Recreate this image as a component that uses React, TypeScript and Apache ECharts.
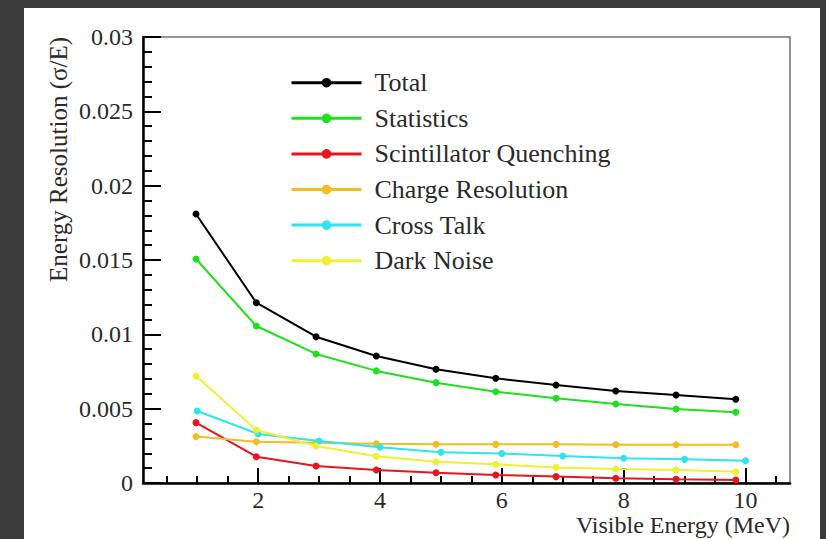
import React, { useEffect, useRef } from "react";
import * as echarts from "echarts";

// x positions (MeV)
const xMain = [0.98, 1.97, 2.95, 3.94, 4.92, 5.9, 6.89, 7.87, 8.86, 9.84];
const xCross = [1, 2, 3, 4, 5, 6, 7, 8, 9, 10];

const seriesNames = [
  "Total",
  "Statistics",
  "Scintillator Quenching",
  "Charge Resolution",
  "Cross Talk",
  "Dark Noise",
];

const total = [0.01809, 0.01213, 0.00984, 0.00854, 0.00765, 0.00704, 0.00659, 0.00619, 0.00592, 0.00563];
const statistics = [0.01507, 0.01056, 0.00868, 0.00754, 0.00675, 0.00614, 0.0057, 0.00531, 0.00498, 0.00476];
const quenching = [0.00406, 0.00177, 0.00114, 0.00087, 0.00069, 0.00054, 0.00043, 0.00032, 0.00025, 0.0002];
const charge = [0.00312, 0.00278, 0.0027, 0.00264, 0.00261, 0.0026, 0.0026, 0.00258, 0.00257, 0.00257];
const crossTalk = [0.00484, 0.0033, 0.00283, 0.0024, 0.00207, 0.00198, 0.00182, 0.00167, 0.00159, 0.0015];
const darkNoise = [0.0072, 0.00356, 0.00249, 0.0018, 0.00143, 0.00126, 0.00105, 0.00094, 0.00087, 0.00076];

const colors = ["#000000", "#1ee01e", "#e8141e", "#f2bd24", "#2fe3f0", "#f0f032"];

const xMajorTicks = [2, 4, 6, 8, 10];
const xMinorTicks = [0.5, 1, 1.5, 2.5, 3, 3.5, 4.5, 5, 5.5, 6.5, 7, 7.5, 8.5, 9, 9.5, 10.5];

const FONT = "Liberation Serif";
const TEXT = "#2a2a2a";

export default function App() {
  const ref = useRef<HTMLDivElement>(null);

  useEffect(() => {
    if (!ref.current) return;
    const chart = echarts.init(ref.current, null, { renderer: "svg" });

    const ys = [total, statistics, quenching, charge, crossTalk, darkNoise];
    const series = ys.map((vals, i) => {
      const xs = i === 4 ? xCross : xMain;
      return {
        name: seriesNames[i],
        type: "line",
        xAxisIndex: 0,
        yAxisIndex: 0,
        data: vals.map((v, k) => [xs[k], v]),
        symbol: "circle",
        symbolSize: 7,
        showSymbol: true,
        lineStyle: { color: colors[i], width: 2 },
        itemStyle: { color: colors[i] },
        z: 3 + i,
      };
    });

    const option = {
      animation: false,
      backgroundColor: "transparent",
      textStyle: { fontFamily: FONT },
      grid: {
        left: 143,
        top: 37,
        width: 647,
        height: 446,
        show: true,
        borderColor: "#707070",
        borderWidth: 1.5,
        backgroundColor: "transparent",
      },
      legend: {
        orient: "vertical",
        left: 290,
        top: 69.7,
        padding: 0,
        itemWidth: 70,
        itemHeight: 12,
        itemGap: 9.6,
        lineStyle: { width: 3 },
        textStyle: {
          fontFamily: FONT,
          fontSize: 26,
          lineHeight: 26,
          color: TEXT,
          padding: [0, 0, 0, 8],
        },
        data: seriesNames,
      },
      xAxis: [
        {
          type: "value",
          min: 0.11,
          max: 10.73,
          axisLine: { show: true, lineStyle: { color: "#000", width: 2.5 } },
          axisTick: {
            show: true,
            inside: true,
            length: 15,
            customValues: xMajorTicks,
            lineStyle: { color: "#000", width: 2 },
          },
          axisLabel: {
            show: true,
            customValues: xMajorTicks,
            margin: 7,
            fontFamily: FONT,
            fontSize: 24,
            lineHeight: 20,
            color: TEXT,
          },
          splitLine: { show: false },
        },
        {
          type: "value",
          min: 0.11,
          max: 10.73,
          position: "bottom",
          axisLine: { show: false },
          axisTick: {
            show: true,
            inside: true,
            length: 7,
            customValues: xMinorTicks,
            lineStyle: { color: "#000", width: 2 },
          },
          axisLabel: { show: false },
          splitLine: { show: false },
        },
      ],
      yAxis: {
        type: "value",
        min: 0,
        max: 0.03,
        interval: 0.005,
        axisLine: { show: true, lineStyle: { color: "#000", width: 2.5 } },
        axisTick: {
          show: true,
          inside: true,
          length: 18,
          lineStyle: { color: "#000", width: 2 },
        },
        minorTick: {
          show: true,
          splitNumber: 5,
          length: 9,
          lineStyle: { color: "#000", width: 2 },
        },
        axisLabel: {
          margin: 10,
          fontFamily: FONT,
          fontSize: 24,
          color: TEXT,
          formatter: (v: number) => String(parseFloat(v.toFixed(4))),
        },
        splitLine: { show: false },
        minorSplitLine: { show: false },
      },
      graphic: [
        {
          type: "text",
          x: 790,
          y: 525,
          style: {
            text: "Visible Energy (MeV)",
            fontFamily: FONT,
            fontSize: 24,
            lineHeight: 22,
            fill: TEXT,
            align: "right",
            verticalAlign: "middle",
          },
        },
        {
          type: "text",
          x: 58,
          y: 37,
          rotation: Math.PI / 2,
          style: {
            text: "Energy Resolution (σ/E)",
            fontFamily: FONT,
            fontSize: 25,
            fill: TEXT,
            align: "right",
            verticalAlign: "middle",
          },
        },
      ],
      series,
    };

    chart.setOption(option as any);
    return () => chart.dispose();
  }, []);

  return (
    <div
      style={{
        position: "fixed",
        left: 0,
        top: 0,
        width: 826,
        height: 539,
        background: "#3b3b3b",
        overflow: "hidden",
      }}
    >
      <div
        style={{
          position: "absolute",
          left: 24,
          top: 8,
          width: 796,
          height: 531,
          background: "#ffffff",
        }}
      />
      <div
        ref={ref}
        style={{ position: "absolute", left: 0, top: 0, width: 826, height: 539 }}
      />
    </div>
  );
}
